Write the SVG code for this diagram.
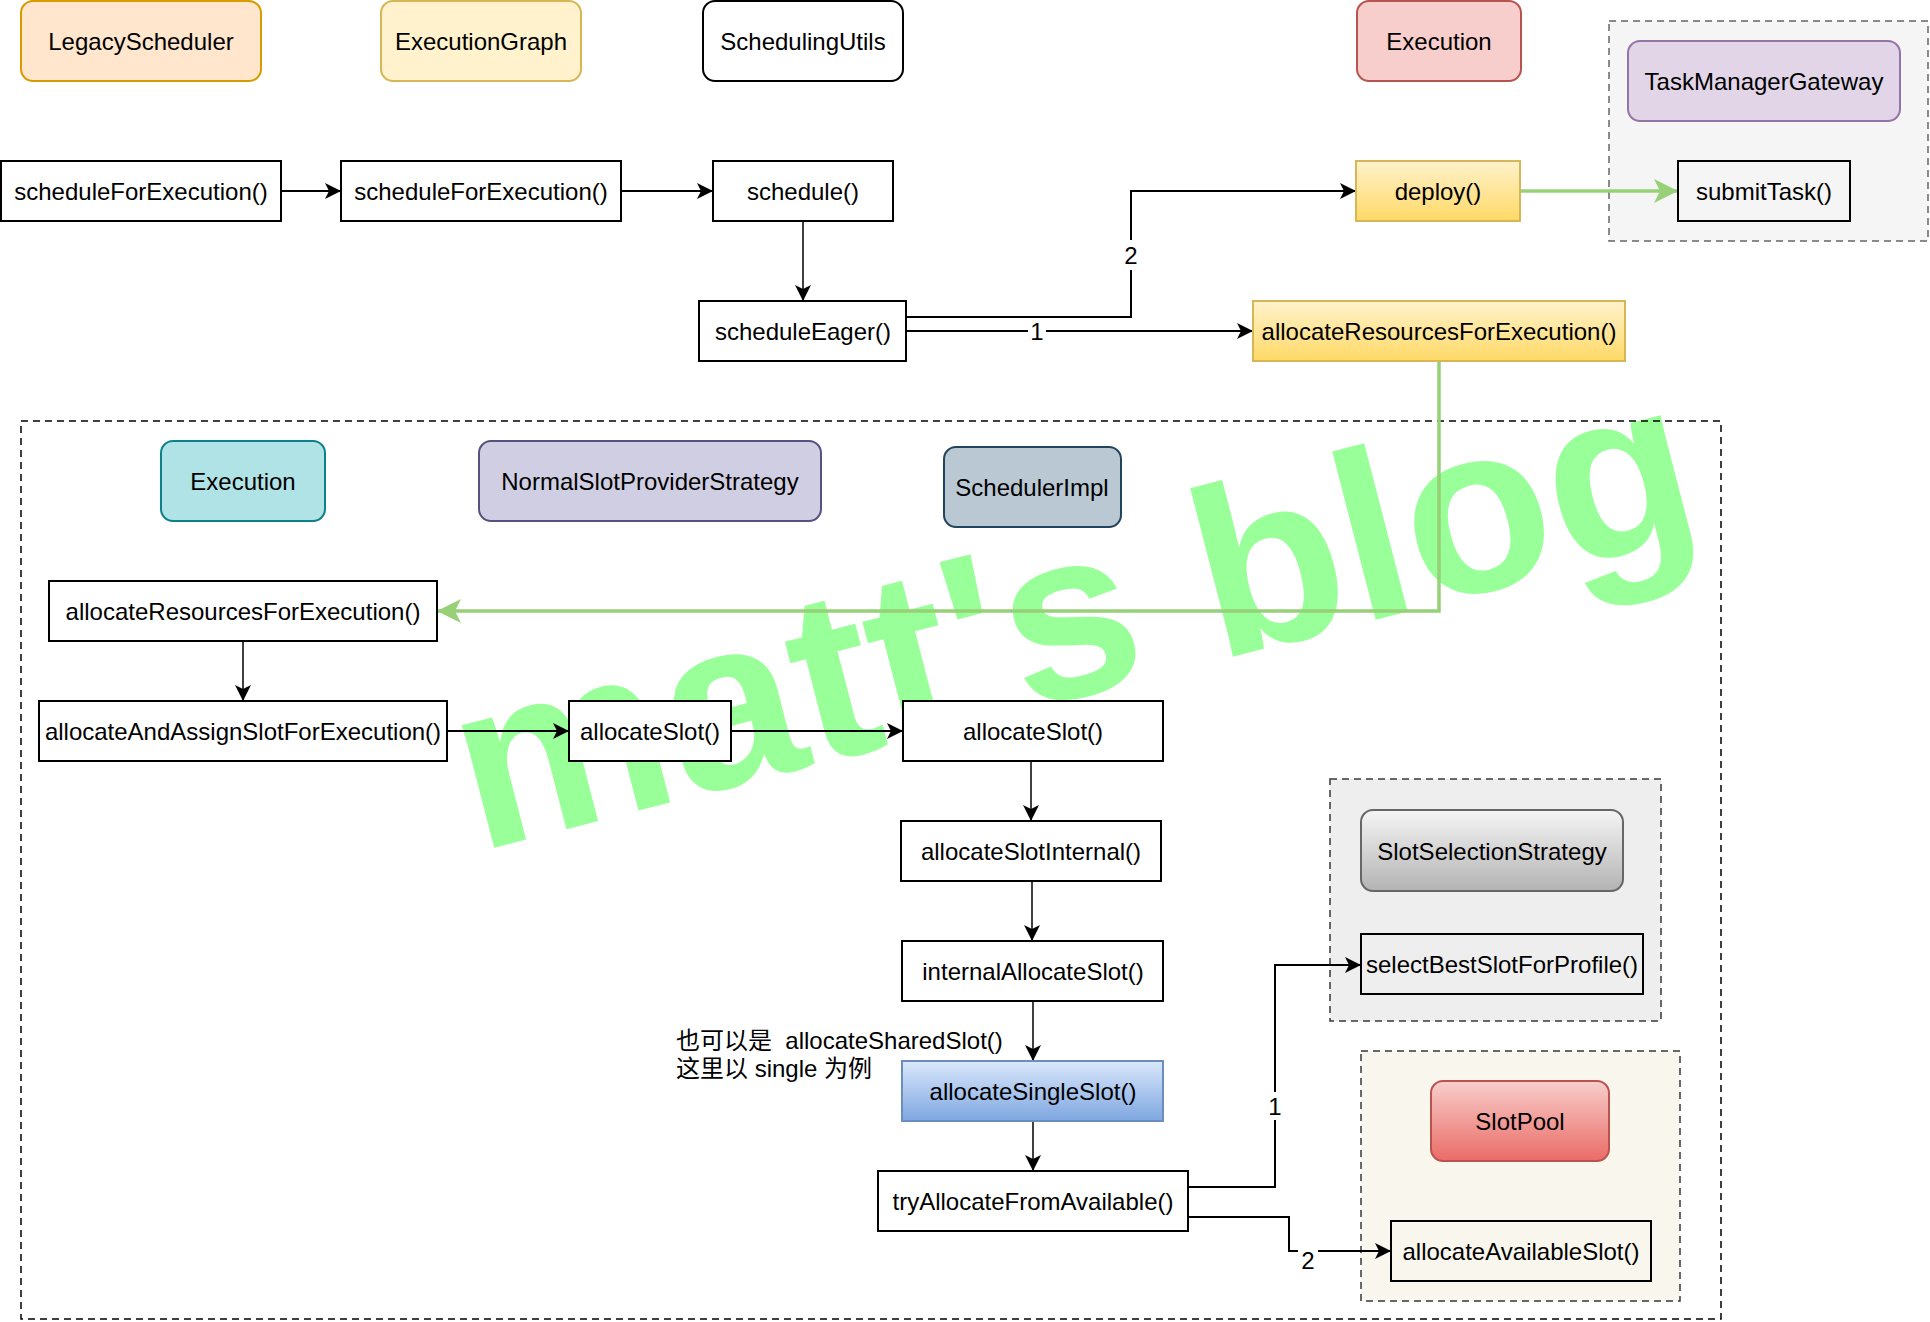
<svg xmlns="http://www.w3.org/2000/svg" width="1930" height="1322" viewBox="0 0 1930 1322">
<defs>
<linearGradient id="gYellow" x1="0" y1="0" x2="0" y2="1"><stop offset="0" stop-color="#fff2cc"/><stop offset="1" stop-color="#ffd966"/></linearGradient>
<linearGradient id="gBlue" x1="0" y1="0" x2="0" y2="1"><stop offset="0" stop-color="#dae8fc"/><stop offset="1" stop-color="#7ea6e0"/></linearGradient>
<linearGradient id="gGray" x1="0" y1="0" x2="0" y2="1"><stop offset="0" stop-color="#f5f5f5"/><stop offset="1" stop-color="#b3b3b3"/></linearGradient>
<linearGradient id="gRed" x1="0" y1="0" x2="0" y2="1"><stop offset="0" stop-color="#f8cecc"/><stop offset="1" stop-color="#ea6b66"/></linearGradient>
<marker id="aBlack" markerUnits="userSpaceOnUse" markerWidth="17" markerHeight="16" refX="16" refY="8" orient="auto" overflow="visible"><path d="M0,0 L16,8 L0,16 L4,8 Z" fill="#000"/></marker>
<marker id="aGreen" markerUnits="userSpaceOnUse" markerWidth="25" markerHeight="24" refX="24" refY="12" orient="auto" overflow="visible"><path d="M0,0 L24,12 L0,24 L6,12 Z" fill="#97d077"/></marker>
<style>
text{font-family:"Liberation Sans",Arial,Helvetica,sans-serif;font-size:24px;fill:#000;}
.c{text-anchor:middle;dominant-baseline:central;}
.box{fill:#fff;stroke:#000;stroke-width:2;}
.clear{fill:none;stroke:#000;stroke-width:2;}
.rnd{stroke-width:2;}
.cont{stroke-dasharray:7 5;stroke-width:1.5;}
.e{fill:none;stroke:#000;stroke-width:2;marker-end:url(#aBlack);}
.et{fill:none;stroke:#000;stroke-width:1.5;marker-end:url(#aBlack);}
.eg{fill:none;stroke:#97d077;stroke-width:3.5;marker-end:url(#aGreen);}
.lbg{fill:#fff;}
.wm{font-size:240px;font-weight:bold;fill:#99ff99;}
.cjk{font-family:"Liberation Sans","Noto Sans CJK SC",sans-serif;font-size:24px;}
</style>
</defs>
<rect width="1930" height="1322" fill="#fff"/>

<text class="wm" x="478" y="852" transform="rotate(-14.5 478 852)">matt's blog</text>

<g id="containers">
<rect id="tmgContainer" x="1609" y="21" width="319" height="220" fill="#f5f5f5" stroke="#666" class="cont"/>
<rect id="bigContainer" x="21" y="421" width="1700" height="898" fill="none" stroke="#000" class="cont"/>
<rect id="slotSelContainer" x="1330" y="779" width="331" height="242" fill="#eeeeee" stroke="#36393d" class="cont"/>
<rect id="slotPoolContainer" x="1361" y="1051" width="319" height="250" fill="#f9f7ed" stroke="#36393d" class="cont"/>
</g>

<g id="connectors">
<path class="e" d="M281,191 L341,191"/>
<path class="e" d="M621,191 L713,191"/>
<path class="et" d="M803,221 L803,301"/>
<path class="e" d="M906,317 L1131,317 L1131,191 L1356,191"/>
<path class="e" d="M906,331 L1253,331"/>
<path class="eg" d="M1520,191 L1678,191"/>
<path class="eg" d="M1439,361 L1439,611 L437,611"/>
<path class="et" d="M243,641 L243,701"/>
<path class="e" d="M447,731 L569,731"/>
<path class="e" d="M731,731 L903,731"/>
<path class="et" d="M1031,761 L1031,821"/>
<path class="et" d="M1032,881 L1032,941"/>
<path class="et" d="M1033,1001 L1033,1061"/>
<path class="et" d="M1033,1121 L1033,1171"/>
<path class="e" d="M1188,1187 L1275,1187 L1275,965 L1361,965"/>
<path class="e" d="M1188,1217 L1289,1217 L1289,1251 L1391,1251"/>
<g id="edgeLabels">
<rect class="lbg" x="1121" y="240" width="20" height="30"/><text class="c" x="1131" y="255">2</text>
<rect class="lbg" x="1028" y="318" width="18" height="26"/><text class="c" x="1037" y="331">1</text>
<rect class="lbg" x="1266" y="1092" width="18" height="28"/><text class="c" x="1275" y="1106">1</text>
<rect class="lbg" x="1298" y="1246" width="20" height="28"/><text class="c" x="1308" y="1260">2</text>
</g>
</g>

<g id="legacyScheduler"><rect x="21" y="1" width="240" height="80" rx="12" fill="#ffe6cc" stroke="#d79b00" class="rnd"/><text class="c" x="141" y="41">LegacyScheduler</text></g>
<g id="executionGraph"><rect x="381" y="1" width="200" height="80" rx="12" fill="#fff2cc" stroke="#d6b656" class="rnd"/><text class="c" x="481" y="41">ExecutionGraph</text></g>
<g id="schedulingUtils"><rect x="703" y="1" width="200" height="80" rx="12" fill="#fff" stroke="#000" class="rnd"/><text class="c" x="803" y="41">SchedulingUtils</text></g>
<g id="executionTop"><rect x="1357" y="1" width="164" height="80" rx="12" fill="#f8cecc" stroke="#b85450" class="rnd"/><text class="c" x="1439" y="41">Execution</text></g>
<g id="taskManagerGateway"><rect x="1628" y="41" width="272" height="80" rx="12" fill="#e1d5e7" stroke="#9673a6" class="rnd"/><text class="c" x="1764" y="81">TaskManagerGateway</text></g>
<g id="submitTask"><rect x="1678" y="161" width="172" height="60" class="clear"/><text class="c" x="1764" y="191">submitTask()</text></g>

<g id="scheduleForExecution1"><rect x="1" y="161" width="280" height="60" class="box"/><text class="c" x="141" y="191">scheduleForExecution()</text></g>
<g id="scheduleForExecution2"><rect x="341" y="161" width="280" height="60" class="box"/><text class="c" x="481" y="191">scheduleForExecution()</text></g>
<g id="schedule"><rect x="713" y="161" width="180" height="60" class="box"/><text class="c" x="803" y="191">schedule()</text></g>
<g id="deploy"><rect x="1356" y="161" width="164" height="60" fill="url(#gYellow)" stroke="#d6b656" stroke-width="2"/><text class="c" x="1438" y="191">deploy()</text></g>
<g id="scheduleEager"><rect x="699" y="301" width="207" height="60" class="box"/><text class="c" x="803" y="331">scheduleEager()</text></g>
<g id="allocateResourcesTop"><rect x="1253" y="301" width="372" height="60" fill="url(#gYellow)" stroke="#d6b656" stroke-width="2"/><text class="c" x="1439" y="331">allocateResourcesForExecution()</text></g>

<g id="executionInner"><rect x="161" y="441" width="164" height="80" rx="12" fill="#b0e3e6" stroke="#0e8088" class="rnd"/><text class="c" x="243" y="481">Execution</text></g>
<g id="normalSlotProviderStrategy"><rect x="479" y="441" width="342" height="80" rx="12" fill="#d0cee2" stroke="#56517e" class="rnd"/><text class="c" x="650" y="481">NormalSlotProviderStrategy</text></g>
<g id="schedulerImpl"><rect x="944" y="447" width="177" height="80" rx="12" fill="#bac8d3" stroke="#23445d" class="rnd"/><text class="c" x="1032" y="487">SchedulerImpl</text></g>

<g id="allocateResourcesInner"><rect x="49" y="581" width="388" height="60" class="box"/><text class="c" x="243" y="611">allocateResourcesForExecution()</text></g>
<g id="allocateAndAssign"><rect x="39" y="701" width="408" height="60" class="box"/><text class="c" x="243" y="731">allocateAndAssignSlotForExecution()</text></g>
<g id="allocateSlot1"><rect x="569" y="701" width="162" height="60" class="box"/><text class="c" x="650" y="731">allocateSlot()</text></g>
<g id="allocateSlot2"><rect x="903" y="701" width="260" height="60" class="box"/><text class="c" x="1033" y="731">allocateSlot()</text></g>
<g id="allocateSlotInternal"><rect x="901" y="821" width="260" height="60" class="box"/><text class="c" x="1031" y="851">allocateSlotInternal()</text></g>
<g id="internalAllocateSlot"><rect x="902" y="941" width="261" height="60" class="box"/><text class="c" x="1033" y="971">internalAllocateSlot()</text></g>
<g id="allocateSingleSlot"><rect x="902" y="1061" width="261" height="60" fill="url(#gBlue)" stroke="#6c8ebf" stroke-width="2"/><text class="c" x="1033" y="1091">allocateSingleSlot()</text></g>
<g id="tryAllocateFromAvailable"><rect x="878" y="1171" width="310" height="60" class="box"/><text class="c" x="1033" y="1201">tryAllocateFromAvailable()</text></g>

<g id="note"><text class="cjk" x="676" y="1049">也可以是&#160; allocateSharedSlot()</text><text class="cjk" x="676" y="1077">这里以 single 为例</text></g>

<g id="slotSelectionStrategy"><rect x="1361" y="810" width="262" height="81" rx="12" fill="url(#gGray)" stroke="#666" class="rnd"/><text class="c" x="1492" y="851">SlotSelectionStrategy</text></g>
<g id="selectBestSlotForProfile"><rect x="1361" y="934" width="282" height="60" class="clear"/><text class="c" x="1502" y="964">selectBestSlotForProfile()</text></g>
<g id="slotPool"><rect x="1431" y="1081" width="178" height="80" rx="12" fill="url(#gRed)" stroke="#b85450" class="rnd"/><text class="c" x="1520" y="1121">SlotPool</text></g>
<g id="allocateAvailableSlot"><rect x="1391" y="1221" width="260" height="60" class="clear"/><text class="c" x="1521" y="1251">allocateAvailableSlot()</text></g>
</svg>
